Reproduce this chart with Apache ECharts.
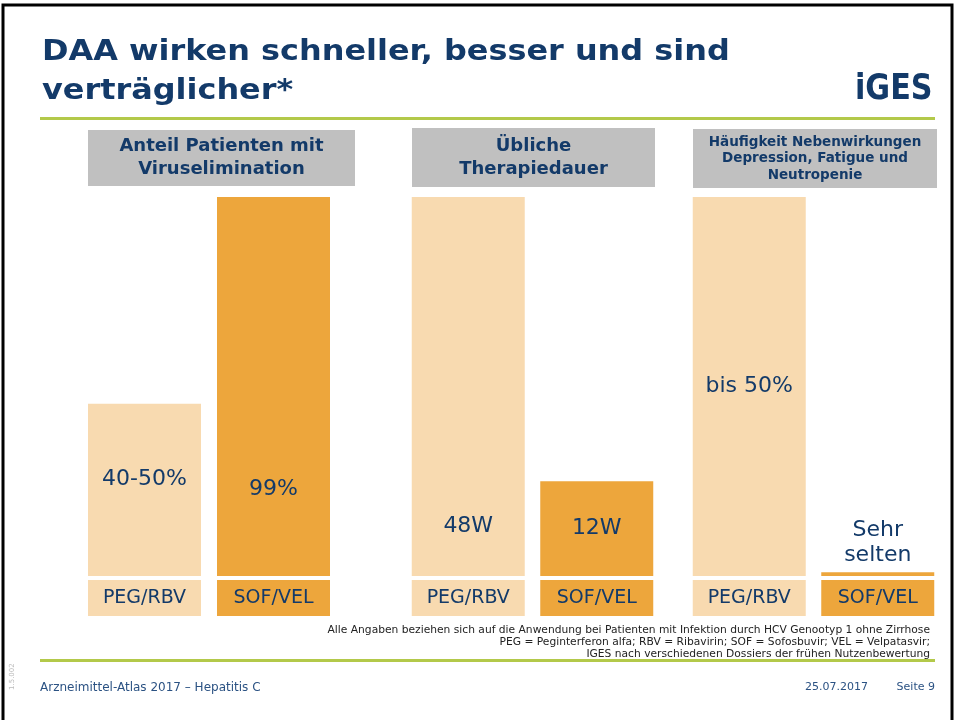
<!DOCTYPE html>
<html>
<head>
<meta charset="utf-8">
<script src="https://cdn.jsdelivr.net/npm/echarts@6/dist/echarts.min.js"></script>
<style>
    html, body { margin: 0; padding: 0; background: #fff; }
    #chart { width: 955px; height: 720px; }
</style>
</head>
<body>
<div id="chart"></div>
<script>
    // Werte aus der Folie
    var categories = ['PEG/RBV', 'SOF/VEL'];
    var panelTitles = [
        'Anteil Patienten mit\nViruselimination',
        'Übliche\nTherapiedauer',
        'Häufigkeit Nebenwirkungen\nDepression, Fatigue und\nNeutropenie'
    ];
    var viruselimination = [45, 99];
    var therapiedauer = [48, 12];
    var nebenwirkungen = [50, 0.5];
    var labelsVirus = ['40-50%', '99%'];
    var labelsDauer = ['48W', '12W'];
    var labelsNeben = ['bis 50%', 'Sehr\nselten'];
    var footnotes = [
        'Alle Angaben beziehen sich auf die Anwendung bei Patienten mit Infektion durch HCV Genootyp 1 ohne Zirrhose',
        'PEG = Peginterferon alfa; RBV = Ribavirin; SOF = Sofosbuvir; VEL = Velpatasvir;',
        'IGES nach verschiedenen Dossiers der frühen Nutzenbewertung'
    ];

    var navy = '#133a69';
    var light = '#f8dab0';
    var dark = '#eda63c';
    var green = '#b3c94a';
    var font = '"DejaVu Sans", Verdana, sans-serif';

    // Spalten-Layout je Panel
    var panels = [
        { left: 80, right: 955 - 338, max: 99, data: viruselimination, labels: labelsVirus,
          spots: [['50%', '44%'], ['50%', '77%']], box: [88, 130, 267, 56], fs: 18, lh: 23 },
        { left: 404, right: 955 - 661, max: 48, data: therapiedauer, labels: labelsDauer,
          spots: [['50%', '87%'], ['50%', '50%']], box: [412, 128, 243, 59], fs: 18, lh: 23 },
        { left: 685, right: 955 - 942, max: 50, data: nebenwirkungen, labels: labelsNeben,
          spots: [['50%', '50%'], 'top'], box: [693, 129, 244, 59], fs: 13.5, lh: 16.5 }
    ];

    var grids = [], xAxes = [], yAxes = [], series = [], graphics = [];

    panels.forEach(function (p, k) {
        grids.push({ left: p.left, right: p.right, top: 197, bottom: 144 });
        xAxes.push({
            type: 'category', gridIndex: k, data: categories,
            axisLine: { show: false }, axisTick: { show: false },
            axisLabel: {
                margin: 4, interval: 0,
                formatter: function (v, i) { return '{' + (i === 0 ? 'l' : 'd') + '|' + v + '}'; },
                rich: {
                    l: { backgroundColor: light, width: 113, height: 36, lineHeight: 36, align: 'center',
                         fontSize: 19, color: navy, fontFamily: font },
                    d: { backgroundColor: dark, width: 113, height: 36, lineHeight: 36, align: 'center',
                         fontSize: 19, color: navy, fontFamily: font }
                }
            }
        });
        yAxes.push({ type: 'value', gridIndex: k, min: 0, max: p.max, show: false, splitLine: { show: false } });
        series.push({
            type: 'bar', xAxisIndex: k, yAxisIndex: k, barWidth: 113,
            data: p.data.map(function (v, i) {
                var pos = p.spots[i];
                return {
                    value: v,
                    label: {
                        show: true,
                        formatter: p.labels[i],
                        position: pos,
                        distance: 4,
                        align: 'center',
                        verticalAlign: pos === 'top' ? 'bottom' : 'middle',
                        fontSize: 22, lineHeight: 25, color: navy, fontFamily: font
                    }
                };
            }),
            itemStyle: { color: function (d) { return d.dataIndex === 0 ? light : dark; } },
            silent: true
        });
        graphics.push({
            type: 'rect',
            shape: { x: p.box[0], y: p.box[1], width: p.box[2], height: p.box[3] },
            style: { fill: '#c0c0c0' },
            textContent: {
                style: { text: panelTitles[k], fill: navy, font: 'bold ' + p.fs + 'px ' + font,
                         align: 'center', lineHeight: p.lh }
            },
            textConfig: { position: 'inside' }
        });
    });

    graphics.push(
        { type: 'rect', shape: { x: 3, y: 5, width: 949, height: 720 }, style: { fill: 'none', stroke: '#000', lineWidth: 3 } },
        { type: 'text', x: 42, y: 33, scaleX: 1.14, style: { text: 'DAA wirken schneller, besser und sind\nverträglicher*',
            font: 'bold 28px ' + font, fill: navy, lineHeight: 39 } },
        { type: 'text', x: 855, y: 72, scaleX: 0.84, style: { text: 'iGES', font: 'bold 36px ' + font, fill: navy } },
        { type: 'rect', shape: { x: 40, y: 117, width: 895, height: 3 }, style: { fill: green } },
        { type: 'rect', shape: { x: 40, y: 659, width: 895, height: 3 }, style: { fill: green } }
    );
    footnotes.forEach(function (t, i) {
        graphics.push({ type: 'text', x: 930, y: 625 + i * 12,
            style: { text: t, font: '10.7px ' + font, fill: '#222', align: 'right' } });
    });
    graphics.push(
        { type: 'text', x: 40, y: 682, style: { text: 'Arzneimittel-Atlas 2017 – Hepatitis C', font: '12px ' + font, fill: '#2b5283' } },
        { type: 'text', x: 868, y: 682, style: { text: '25.07.2017', font: '11px ' + font, fill: '#2b5283', align: 'right' } },
        { type: 'text', x: 935, y: 682, style: { text: 'Seite 9', font: '11px ' + font, fill: '#2b5283', align: 'right' } },
        { type: 'text', x: 9, y: 690, rotation: Math.PI / 2, style: { text: '1.5.002', font: '7px ' + font, fill: '#bbb' } }
    );

    var myChart = echarts.init(document.getElementById('chart'));
    myChart.setOption({
        animation: false,
        grid: grids,
        xAxis: xAxes,
        yAxis: yAxes,
        series: series,
        graphic: graphics
    });
    window.addEventListener('resize', function () { myChart.resize(); });
</script>
</body>
</html>
